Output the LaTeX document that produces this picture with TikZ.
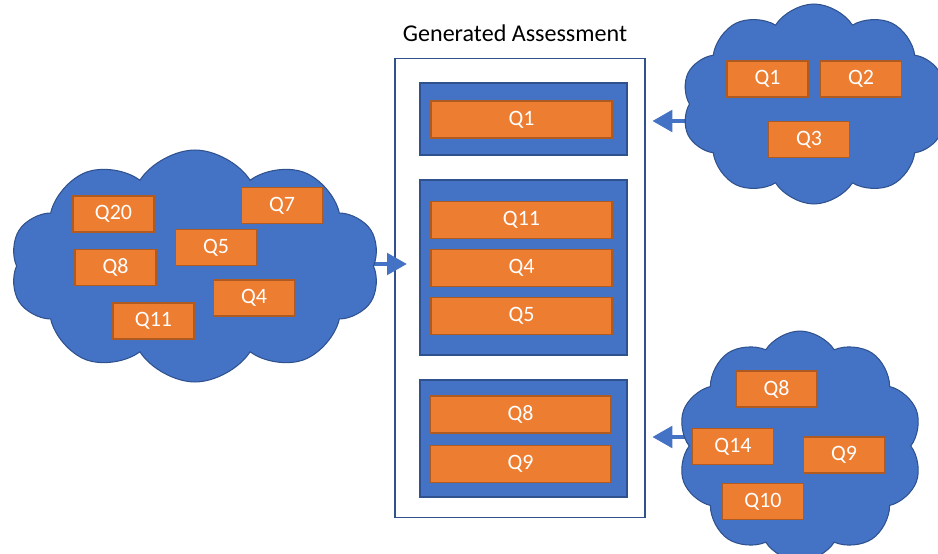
\documentclass[tikz,border=0pt]{standalone}
\usepackage{fontspec}
\setmainfont{Carlito}
\usetikzlibrary{positioning,shapes.symbols,arrows.meta}

\definecolor{qblue}{HTML}{4472C4}
\definecolor{qedge}{HTML}{2F528F}
\definecolor{qorange}{HTML}{ED7D31}
\definecolor{qoedge}{HTML}{AE5A21}

\tikzset{
  pool/.style={cloud,cloud puffs=10,cloud puff arc=115,cloud ignores aspect,
    fill=qblue,draw=qedge,line width=0.6pt},
  qbox/.style={rectangle,fill=qorange,draw=qoedge,line width=0.6pt,text=white,
    minimum width=1.62cm,minimum height=0.72cm,inner sep=0pt},
  slot/.style={qbox,minimum width=3.62cm,minimum height=0.74cm},
  group/.style={rectangle,fill=qblue,draw=qedge,line width=0.8pt,minimum width=4.14cm},
  flow/.style={draw=qblue,line width=2.8pt,-{Triangle[length=0.4cm,width=0.42cm]}}
}

\begin{document}
\begin{tikzpicture}[x=0.02cm,y=-0.02cm,font=\fontsize{12.5}{15}\selectfont]
                    \useasboundingbox (0,0) rectangle (938,554);
                    % generated assessment
                    \node[font=\fontsize{13.7}{16}\selectfont] (title) at (515,33) {Generated Assessment};
                    \node[draw=qedge,line width=0.6pt,minimum width=5cm,minimum height=9.2cm] (frame) at (520,288) {};
                    \node[group,minimum height=1.44cm] (grp1) at (523.5,119) {};
                    \node[group,minimum height=3.5cm] (grp2) at (523.5,267.5) {};
                    \node[group,minimum height=2.34cm] (grp3) at (523.5,438.5) {};
                    \node[slot] (g1) at (521.5,119.5) {Q1};
                    \node[slot] (g11) at (521.5,220) {Q11};
                    \node[slot,below=0.2cm of g11] (g4) {Q4};
                    \node[slot,below=0.2cm of g4] (g5) {Q5};
                    \node[slot] (g8) at (520.5,414.5) {Q8};
                    \node[slot,below=0.22cm of g8] (g9) {Q9};
                    % arrows (tails hidden under the clouds)
                    \coordinate (ltail) at (350,264);
                    \coordinate (ttail) at (700,121);
                    \coordinate (btail) at (700,437);
                    \draw[flow,shorten >=7] (ltail) -- (ltail -| grp2.west);
                    \draw[flow,shorten >=14] (ttail) -- (ttail -| grp1.east);
                    \draw[flow,shorten >=14] (btail) -- (btail -| grp3.east);
                    % question pools
                    \node[pool,minimum width=7.4cm,minimum height=4.64cm] (lcloud) at (195,266) {};
                    \node[pool,minimum width=5.3cm,minimum height=4cm] (trcloud) at (814,104) {};
                    \node[pool,minimum width=4.9cm,minimum height=4.6cm] (brcloud) at (800,446) {};
                    \node[qbox] (l20) at (113.5,214) {Q20};
                    \node[qbox] (l7) at (282,205.5) {Q7};
                    \node[qbox] (l5) at (216,247.5) {Q5};
                    \node[qbox] (l8) at (115.5,267.5) {Q8};
                    \node[qbox] (l4) at (254,298) {Q4};
                    \node[qbox] (l11) at (153.5,321) {Q11};
                    \node[qbox] (t1) at (767.5,79) {Q1};
                    \node[qbox] (t2) at (861,79) {Q2};
                    \node[qbox] (t3) at (809,139.5) {Q3};
                    \node[qbox] (b8) at (776.5,389) {Q8};
                    \node[qbox] (b14) at (733,446.5) {Q14};
                    \node[qbox] (b9) at (844,455) {Q9};
                    \node[qbox] (b10) at (763,501.5) {Q10};
                \end{tikzpicture}
\end{document}
